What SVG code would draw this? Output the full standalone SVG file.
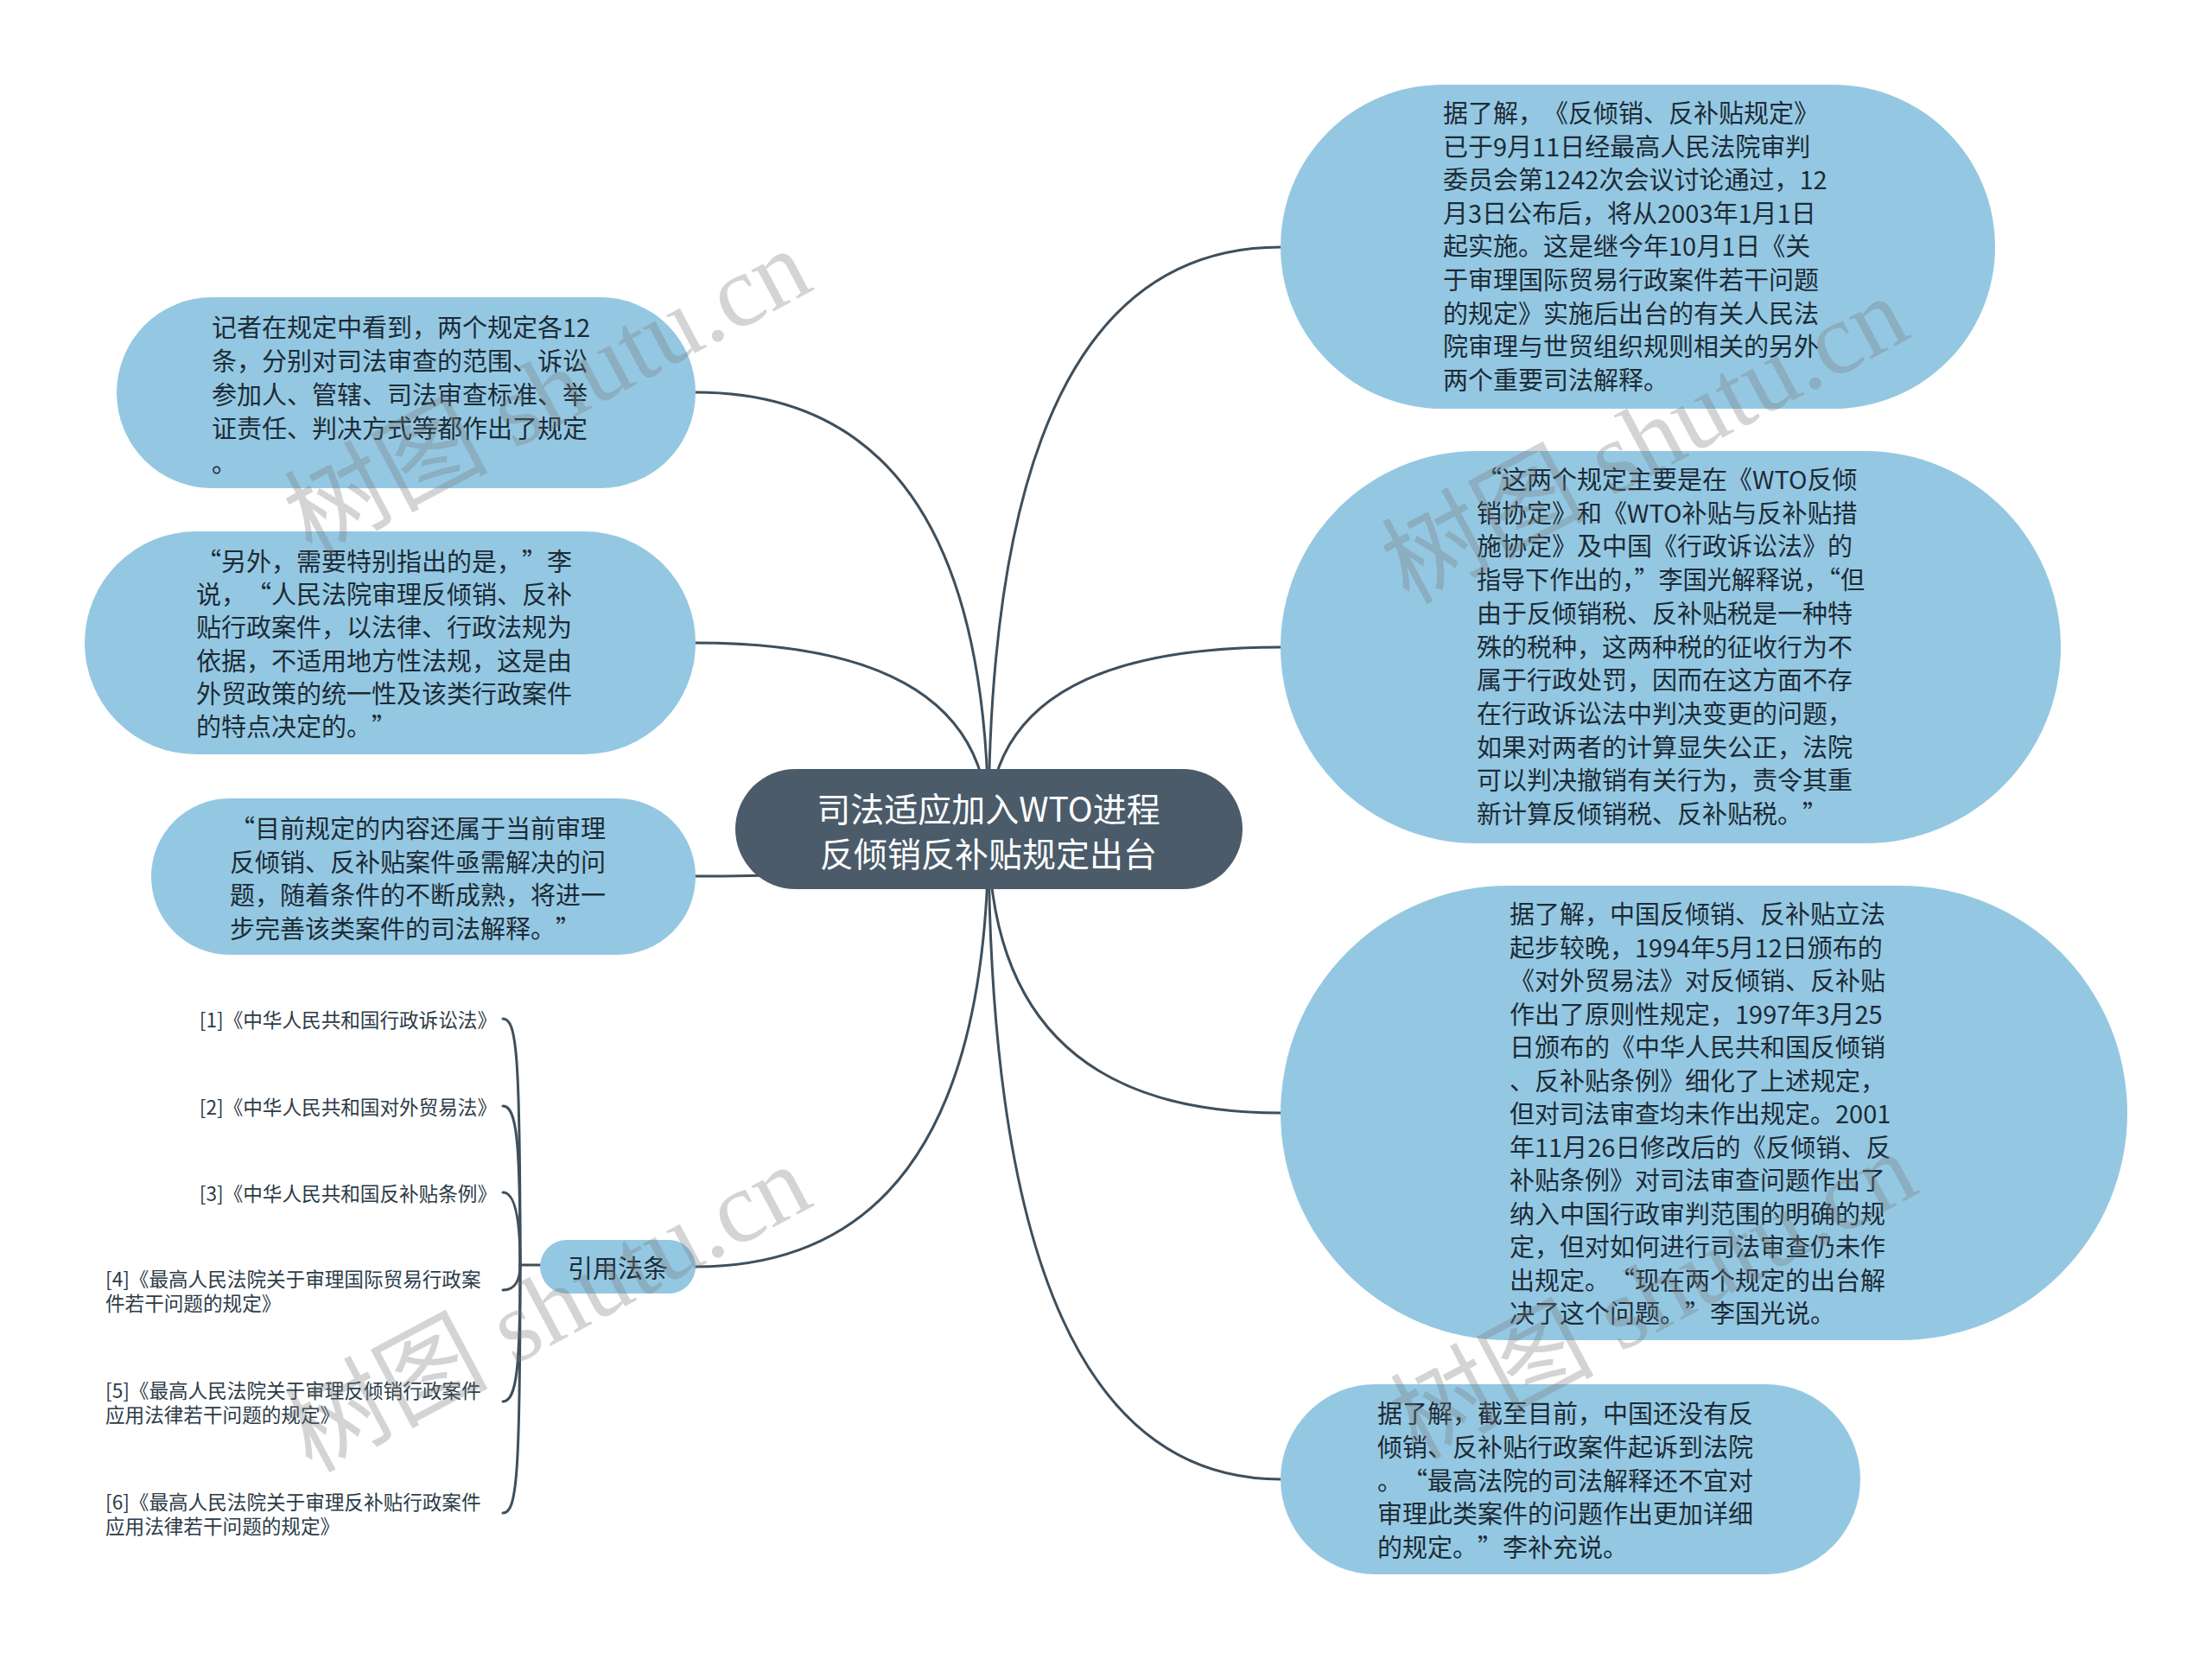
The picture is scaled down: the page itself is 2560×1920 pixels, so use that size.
<svg xmlns="http://www.w3.org/2000/svg" width="2560" height="1920" viewBox="0 0 2560 1920">
<style>
text{text-spacing-trim:space-all;font-feature-settings:"chws" 0,"halt" 0}
.bg{fill:#ffffff}
.conn{fill:none;stroke:#3f4f5c;stroke-width:3;stroke-linecap:round}
.node{fill:#94c8e2}
.root{fill:#4b5b6a}
.t{font-family:"Noto Sans CJK SC","Noto Sans",sans-serif;font-size:29px;fill:#1d2b36;dominant-baseline:central}
.rt{font-family:"Noto Sans CJK SC","Noto Sans",sans-serif;font-size:39px;fill:#ffffff;dominant-baseline:central;text-anchor:middle}
.ref{font-family:"Noto Sans CJK SC","Noto Sans",sans-serif;font-size:22.6px;fill:#2c3b47;dominant-baseline:central}
.wm{font-family:"Liberation Serif","Noto Sans CJK SC",serif;font-size:118px;fill:#7a7a7a;fill-opacity:0.32}
</style>
<rect class="bg" x="0" y="0" width="2560" height="1920"/>
<g id="connectors">
<path class="conn" d="M1144 960 Q1144 286 1482 286"/>
<path class="conn" d="M1144 960 Q1144 749 1482 749"/>
<path class="conn" d="M1144 960 Q1144 1288 1482 1288"/>
<path class="conn" d="M1144 960 Q1144 1712 1482 1712"/>
<path class="conn" d="M1144 960 Q1144 454 805 454"/>
<path class="conn" d="M1144 960 Q1144 744 805 744"/>
<path class="conn" d="M1144 960 Q1144 1014 805 1014"/>
<path class="conn" d="M1144 960 Q1144 1466 805 1466"/>
<path class="conn" d="M602 1464 L625 1464"/>
<path class="conn" d="M582 1179 C598 1179 602 1219 602 1464"/>
<path class="conn" d="M582 1280 C598 1280 602 1320 602 1464"/>
<path class="conn" d="M582 1380 C598 1380 602 1420 602 1464"/>
<path class="conn" d="M582 1493 C598 1493 602 1478 602 1464"/>
<path class="conn" d="M582 1622 C598 1622 602 1582 602 1464"/>
<path class="conn" d="M582 1751 C598 1751 602 1711 602 1464"/>
</g>
<g id="root">
<rect class="root" x="851" y="890" width="587" height="139" rx="69.5" ry="69.5"/>
<text class="rt" x="1144" y="934">司法适应加入WTO进程</text>
<text class="rt" x="1144" y="986">反倾销反补贴规定出台</text>
</g>
<g id="r1">
<rect class="node" x="1482" y="98" width="827" height="375" rx="187.5" ry="187.5"/>
<text class="t" x="1670" y="129">据了解，《反倾销、反补贴规定》</text>
<text class="t" x="1670" y="167.6">已于9月11日经最高人民法院审判</text>
<text class="t" x="1670" y="206.2">委员会第1242次会议讨论通过，12</text>
<text class="t" x="1670" y="244.8">月3日公布后，将从2003年1月1日</text>
<text class="t" x="1670" y="283.4">起实施。这是继今年10月1日《关</text>
<text class="t" x="1670" y="322">于审理国际贸易行政案件若干问题</text>
<text class="t" x="1670" y="360.6">的规定》实施后出台的有关人民法</text>
<text class="t" x="1670" y="399.2">院审理与世贸组织规则相关的另外</text>
<text class="t" x="1670" y="437.8">两个重要司法解释。</text>
</g>
<g id="r2">
<rect class="node" x="1482" y="522" width="903" height="454" rx="227" ry="227"/>
<text class="t" x="1709" y="553">“这两个规定主要是在《WTO反倾</text>
<text class="t" x="1709" y="591.7">销协定》和《WTO补贴与反补贴措</text>
<text class="t" x="1709" y="630.4">施协定》及中国《行政诉讼法》的</text>
<text class="t" x="1709" y="669.1" textLength="449" lengthAdjust="spacingAndGlyphs" style="text-spacing-trim:normal">指导下作出的，”李国光解释说，“但</text>
<text class="t" x="1709" y="707.8">由于反倾销税、反补贴税是一种特</text>
<text class="t" x="1709" y="746.5">殊的税种，这两种税的征收行为不</text>
<text class="t" x="1709" y="785.2">属于行政处罚，因而在这方面不存</text>
<text class="t" x="1709" y="823.9">在行政诉讼法中判决变更的问题，</text>
<text class="t" x="1709" y="862.6">如果对两者的计算显失公正，法院</text>
<text class="t" x="1709" y="901.3">可以判决撤销有关行为，责令其重</text>
<text class="t" x="1709" y="940">新计算反倾销税、反补贴税。”</text>
</g>
<g id="r3">
<rect class="node" x="1482" y="1025" width="980" height="526" rx="263" ry="263"/>
<text class="t" x="1747" y="1056">据了解，中国反倾销、反补贴立法</text>
<text class="t" x="1747" y="1094.5">起步较晚，1994年5月12日颁布的</text>
<text class="t" x="1747" y="1133">《对外贸易法》对反倾销、反补贴</text>
<text class="t" x="1747" y="1171.5">作出了原则性规定，1997年3月25</text>
<text class="t" x="1747" y="1210">日颁布的《中华人民共和国反倾销</text>
<text class="t" x="1747" y="1248.5">、反补贴条例》细化了上述规定，</text>
<text class="t" x="1747" y="1287">但对司法审查均未作出规定。2001</text>
<text class="t" x="1747" y="1325.5">年11月26日修改后的《反倾销、反</text>
<text class="t" x="1747" y="1364">补贴条例》对司法审查问题作出了</text>
<text class="t" x="1747" y="1402.5">纳入中国行政审判范围的明确的规</text>
<text class="t" x="1747" y="1441">定，但对如何进行司法审查仍未作</text>
<text class="t" x="1747" y="1479.5">出规定。“现在两个规定的出台解</text>
<text class="t" x="1747" y="1518">决了这个问题。”李国光说。</text>
</g>
<g id="r4">
<rect class="node" x="1482" y="1602" width="671" height="220" rx="110" ry="110"/>
<text class="t" x="1594" y="1634">据了解，截至目前，中国还没有反</text>
<text class="t" x="1594" y="1672.75">倾销、反补贴行政案件起诉到法院</text>
<text class="t" x="1594" y="1711.5">。“最高法院的司法解释还不宜对</text>
<text class="t" x="1594" y="1750.25">审理此类案件的问题作出更加详细</text>
<text class="t" x="1594" y="1789">的规定。”李补充说。</text>
</g>
<g id="l1">
<rect class="node" x="135" y="344" width="670" height="221" rx="110.5" ry="110.5"/>
<text class="t" x="245" y="377">记者在规定中看到，两个规定各12</text>
<text class="t" x="245" y="416">条，分别对司法审查的范围、诉讼</text>
<text class="t" x="245" y="455">参加人、管辖、司法审查标准、举</text>
<text class="t" x="245" y="494">证责任、判决方式等都作出了规定</text>
<text class="t" x="245" y="534">。</text>
</g>
<g id="l2">
<rect class="node" x="98" y="615" width="707" height="258" rx="129" ry="129"/>
<text class="t" x="227" y="648">“另外，需要特别指出的是，”李</text>
<text class="t" x="227" y="686.2">说，“人民法院审理反倾销、反补</text>
<text class="t" x="227" y="724.4">贴行政案件，以法律、行政法规为</text>
<text class="t" x="227" y="762.6">依据，不适用地方性法规，这是由</text>
<text class="t" x="227" y="800.8">外贸政策的统一性及该类行政案件</text>
<text class="t" x="227" y="839">的特点决定的。”</text>
</g>
<g id="l3">
<rect class="node" x="175" y="924" width="630" height="181" rx="90.5" ry="90.5"/>
<text class="t" x="266" y="957">“目前规定的内容还属于当前审理</text>
<text class="t" x="266" y="995.7">反倾销、反补贴案件亟需解决的问</text>
<text class="t" x="266" y="1034.4">题，随着条件的不断成熟，将进一</text>
<text class="t" x="266" y="1073">步完善该类案件的司法解释。”</text>
</g>
<g id="refs">
<rect class="node" x="625" y="1435" width="180" height="62" rx="31" ry="31"/>
<text class="t" x="715" y="1466" text-anchor="middle">引用法条</text>
</g>
<g id="ref1"><text class="ref" x="575" y="1179" text-anchor="end">[1]《中华人民共和国行政诉讼法》</text></g>
<g id="ref2"><text class="ref" x="575" y="1280" text-anchor="end">[2]《中华人民共和国对外贸易法》</text></g>
<g id="ref3"><text class="ref" x="575" y="1380" text-anchor="end">[3]《中华人民共和国反补贴条例》</text></g>
<g id="ref4">
<text class="ref" x="122" y="1479">[4]《最高人民法院关于审理国际贸易行政案</text>
<text class="ref" x="122" y="1507">件若干问题的规定》</text>
</g>
<g id="ref5">
<text class="ref" x="122" y="1608">[5]《最高人民法院关于审理反倾销行政案件</text>
<text class="ref" x="122" y="1636">应用法律若干问题的规定》</text>
</g>
<g id="ref6">
<text class="ref" x="122" y="1737">[6]《最高人民法院关于审理反补贴行政案件</text>
<text class="ref" x="122" y="1765">应用法律若干问题的规定》</text>
</g>
<g id="watermarks">
<text class="wm" transform="translate(360 645) rotate(-28)">树图 shutu.cn</text>
<text class="wm" transform="translate(1630 700) rotate(-28)">树图 shutu.cn</text>
<text class="wm" transform="translate(360 1705) rotate(-28)">树图 shutu.cn</text>
<text class="wm" transform="translate(1640 1690) rotate(-28)">树图 shutu.cn</text>
</g>
</svg>
